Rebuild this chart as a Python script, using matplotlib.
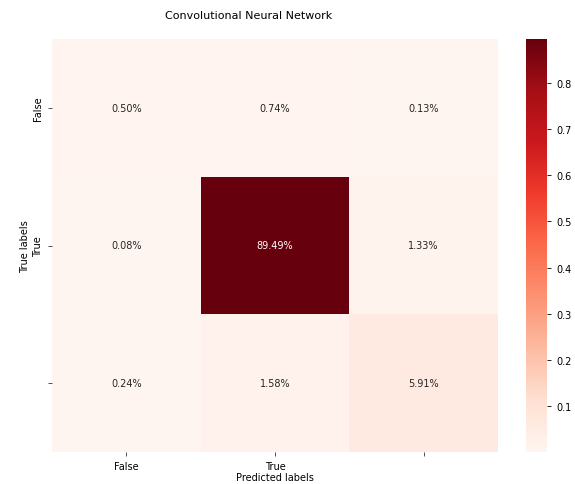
import numpy as np
import matplotlib
matplotlib.use("Agg")
import matplotlib.pyplot as plt
import seaborn as sns

# confusion matrix (fraction of all samples)
row_false = [0.0050, 0.0074, 0.0013]
row_true = [0.0008, 0.8949, 0.0133]
row_other = [0.0024, 0.0158, 0.0591]
tick_labels = ["False", "True", ""]

cm = np.array([row_false, row_true, row_other])

W, H = 575, 485
fig = plt.figure(figsize=(W / 100, H / 100), dpi=100)
ax = fig.add_axes([52 / W, 32 / H, 446 / W, 413 / H])
cax = fig.add_axes([526 / W, 32 / H, 21 / W, 413 / H])

sns.heatmap(cm, annot=True, fmt=".2%", cmap="Reds", ax=ax, cbar_ax=cax,
            annot_kws={"fontsize": 7})

ax.set_xticklabels(tick_labels, fontsize=7)
ax.set_yticklabels(tick_labels, fontsize=7, rotation=90, va="center")
ax.tick_params(length=3, width=0.6, colors="#333333", labelcolor="black")
ax.set_xlabel("Predicted labels", fontsize=7, labelpad=1)
ax.set_ylabel("True labels", fontsize=7, labelpad=2)
fig.suptitle("Convolutional Neural Network", fontsize=8, x=0.433, y=0.978)

cax.tick_params(labelsize=7, length=3, width=0.6)
for sp in cax.spines.values():
    sp.set_visible(False)

fig.savefig("out.png", dpi=100)
